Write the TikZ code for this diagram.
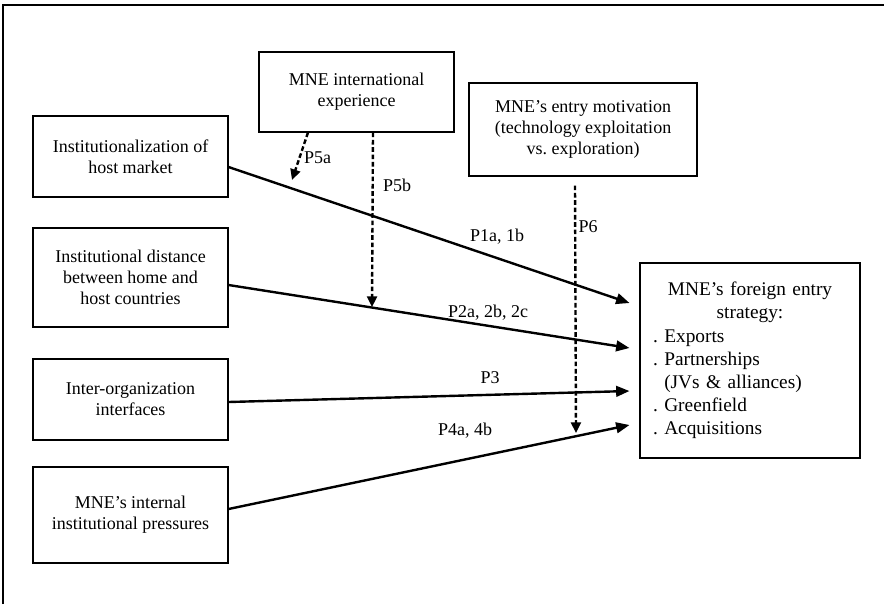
\documentclass[tikz,border=0pt]{standalone}
\usepackage{fontspec}
\setmainfont{Liberation Serif}
\usetikzlibrary{calc}
\usetikzlibrary{arrows.meta}

\begin{document}
\frenchspacing
\begin{tikzpicture} [x = 0.75pt, y = -0.75pt,
    box/.style = {draw, line width = 0.8pt, align = center, inner sep = 0pt,
        minimum width = 146.25pt, font = \fontsize{13.5}{15.75}\selectfont},
    lbl/.style = {inner sep = 0pt, font = \fontsize{13.5}{15.75}\selectfont},
    arr/.style = {line width = 1.8pt, -{Triangle[length = 10pt, width = 8pt]}},
    mod/.style = {line width = 1.8pt, dash pattern = on 3.5pt off 2pt,
        -{Triangle[length = 8pt, width = 7.5pt]}}]

\useasboundingbox (0,0) rectangle (884,604);

% frame
\draw [line width = 0.8pt] (3,604) -- (3,5) -- (884,5);

% institutional drivers
\node [box, minimum height = 60.75pt] (inst) at (130.5,156.5)
    {Institutionalization of\\host market};
\node [box, minimum height = 74.25pt] (dist) at (130.5,277.5)
    {Institutional distance\\between home and\\host countries};
\node [box, minimum height = 60.75pt] (iface) at (130.5,399.5)
    {Inter-organization\\interfaces};
\node [box, minimum height = 72pt] (press) at (130.5,515)
    {MNE’s internal\\institutional pressures};

% moderators
\node [box, minimum height = 60pt] (exper) at (356.5,92)
    {MNE international\\experience};
\node [box, minimum width = 171pt, minimum height = 69.75pt] (motiv) at (583,129.5)
    {MNE’s entry motivation\\(technology exploitation\\vs. exploration)};

% entry strategy
\node [box, align = left, minimum width = 165pt, minimum height = 146.25pt,
    text width = 145.5pt, inner xsep = 9.75pt,
    font = \fontsize{14.5}{17.4}\selectfont] (fes) at (750,360.5)
    {\centering MNE’s foreign entry\\strategy:\par
     \raggedright .\ Exports\\.\ Partnerships\\\hphantom{.}\ (JVs \& alliances)\\.\ Greenfield\\.\ Acquisitions};

% main effects
\draw [arr] ($(inst.east) + (0,10.5)$) -- ($(fes.west) + (-10,-57.5)$);
\draw [arr] ($(dist.east) + (0,7.5)$) -- ($(fes.west) + (-10,-12.5)$);
\draw [arr] ($(iface.east) + (0,2.5)$) -- ($(fes.west) + (-10,30.5)$);
\draw [arr] ($(press.east) + (0,-6)$) -- ($(fes.west) + (-10,64.5)$);

% moderating effects
\coordinate (m5a) at (292,180);
\coordinate (m5b) at (372,307);
\coordinate (m6) at (576,433);
\draw [mod] ($(exper.south) + (-48.5,0)$) -- (m5a);
\draw [mod] ($(exper.south) + (16.5,0)$) -- (m5b);
\draw [mod] ($(motiv.south) + (-8,9)$) -- (m6);

% labels
\node [lbl] (P5a) at (317.5,158) {P5a};
\node [lbl] (P5b) at (397,185) {P5b};
\node [lbl] (P1) at (497,237) {P1a, 1b};
\node [lbl] (P6) at (588,227) {P6};
\node [lbl] (P2) at (488,313) {P2a, 2b, 2c};
\node [lbl] (P3) at (490,378) {P3};
\node [lbl] (P4) at (465,431) {P4a, 4b};

\end{tikzpicture}
\end{document}
